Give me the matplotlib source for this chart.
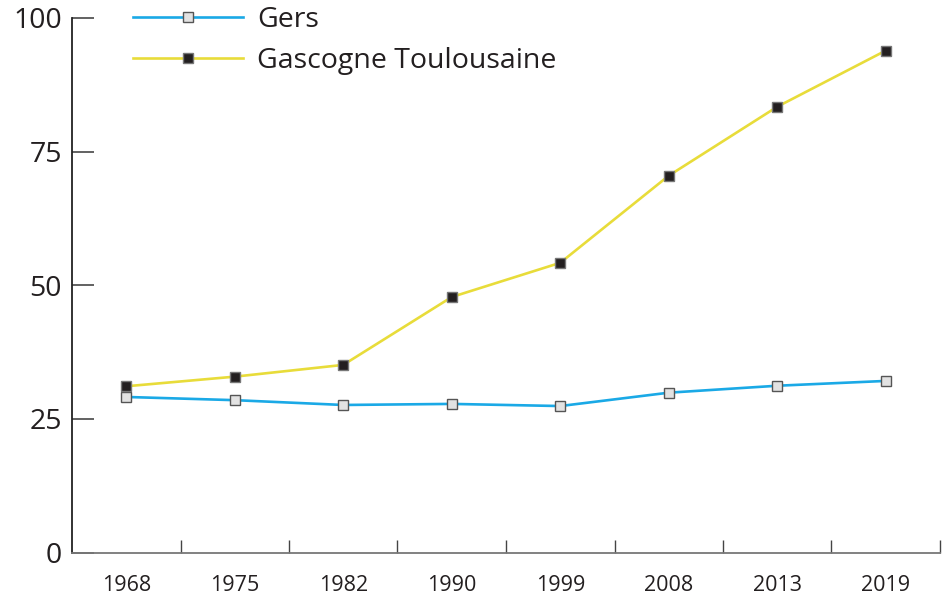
import numpy as np
import matplotlib.pyplot as plt

# Données
annees = ['1968', '1975', '1982', '1990', '1999', '2008', '2013', '2019']
gers = [29.1, 28.5, 27.6, 27.8, 27.4, 29.9, 31.2, 32.1]
gascogne = [31.1, 32.9, 35.1, 47.8, 54.2, 70.5, 83.4, 93.9]

plt.rcParams['font.family'] = ['Open Sans', 'DejaVu Sans']

fig = plt.figure(figsize=(9.52, 5.96), dpi=100)
ax = fig.add_axes([72 / 952, 1 - 552.5 / 596, 868 / 952, 534.5 / 596])

x = np.arange(len(annees))
ax.plot(x, gers, color='#1aa9e6', lw=1.9, marker='s', ms=7,
        mfc='#e2e2e2', mec='#555555', mew=1, label='Gers')
ax.plot(x, gascogne, color='#e8dc3a', lw=1.9, marker='s', ms=7,
        mfc='#231f20', mec='#777777', mew=1, label='Gascogne Toulousaine')

ax.set_xlim(-0.5, len(annees) - 0.5)
ax.set_ylim(0, 100)
ax.set_yticks([0, 25, 50, 75, 100])
ax.set_xticks(x)
ax.set_xticklabels(annees)
ax.set_xticks(np.arange(0.5, len(annees)), minor=True)

for s in ['top', 'right']:
    ax.spines[s].set_visible(False)
ax.spines['left'].set_color('#222222')
ax.spines['bottom'].set_color('#777777')
ax.spines['left'].set_linewidth(1.3)
ax.spines['bottom'].set_linewidth(1.3)

ax.tick_params(axis='y', direction='in', length=16, width=1.3, color='#555555',
               labelsize=20.5, pad=-2, labelcolor='#231f20')
ax.tick_params(axis='x', which='major', length=0, labelsize=15.5, pad=16,
               labelcolor='#231f20')
ax.tick_params(axis='x', which='minor', direction='in', length=9.5, width=1,
               color='#444444')
for lab in ax.get_yticklabels():
    lab.set_x(-0.015)

ax.legend(loc='upper left', bbox_to_anchor=(133 / 952, 1 - 6 / 596),
          bbox_transform=fig.transFigure, frameon=False, fontsize=20.5,
          handlelength=3.86, handletextpad=0.49, labelspacing=0.45,
          borderpad=0, borderaxespad=0, labelcolor='#231f20')

fig.savefig('out.png', dpi=100)
